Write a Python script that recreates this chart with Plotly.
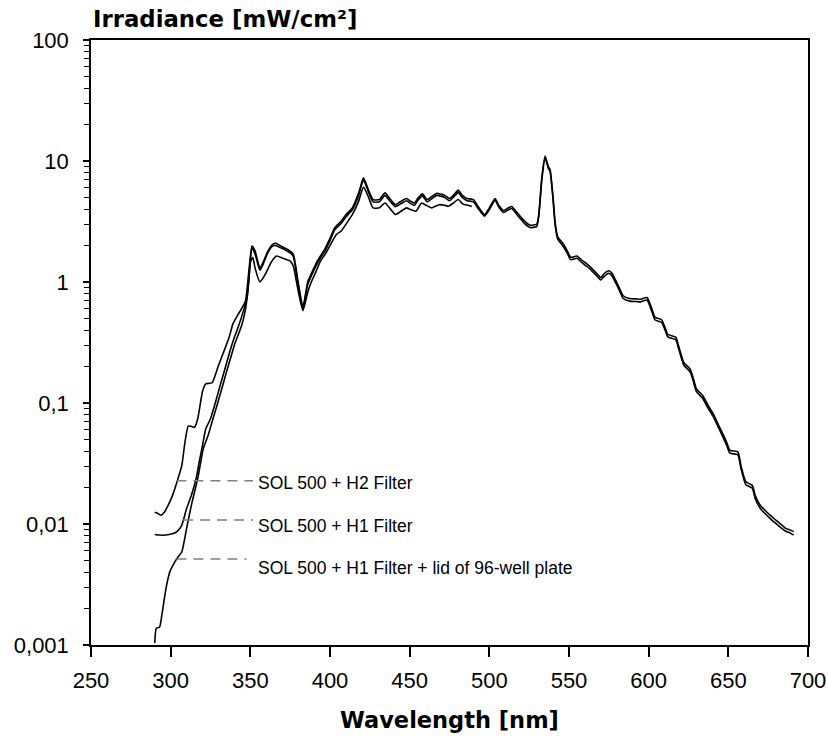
import plotly.graph_objects as go
import math

# ---- data ----
wl_h2 = [290, 292, 294, 296, 298, 301, 304, 307, 309, 311, 313, 315, 317, 320, 322, 326, 330, 334, 337, 339,
         342, 345, 347, 349, 351, 353, 356, 358, 361, 364, 366, 369, 372, 375, 377, 380, 383, 386, 388, 391,
         394, 397, 400, 403, 407, 410, 414, 418, 421, 424, 427, 431, 434.5, 438, 441, 444, 448, 450, 453, 455,
         458, 461, 464, 467, 470, 472, 475, 478, 480.5, 483, 486, 490, 493, 497, 500, 503.6, 506, 509, 512, 514,
         517, 519.3, 522, 525.5, 529.7, 531, 533, 535, 537, 538.1, 540, 541.3, 543, 546, 549, 551, 555, 558, 560,
         563, 565, 568, 570, 572, 575, 577, 579, 582, 584, 588, 592, 595, 599, 602, 604, 608, 610, 612, 617,
         619, 622, 626, 628, 630, 634, 637, 641, 644, 647, 649, 651, 656, 658, 661, 665, 667, 670, 673, 676,
         679, 681, 684, 686, 689, 691]
irr_h2 = [0.0125, 0.0122, 0.0118, 0.0125, 0.0139, 0.017, 0.0223, 0.0305, 0.0477, 0.0645, 0.064, 0.063, 0.074,
          0.125, 0.144, 0.147, 0.204, 0.28, 0.36, 0.449, 0.53, 0.616, 0.70, 1.2, 1.98, 1.8, 1.3, 1.45, 1.8, 2.05,
          2.09, 1.99, 1.9, 1.8, 1.7, 1.0, 0.62, 1.0, 1.15, 1.4, 1.64, 1.9, 2.3, 2.81, 3.18, 3.6, 4.1, 5.45, 7.25,
          5.82, 4.8, 4.8, 5.45, 4.8, 4.36, 4.6, 4.9, 4.7, 4.5, 4.9, 5.35, 4.8, 5.1, 5.4, 5.3, 5.2, 4.9, 5.3, 5.75,
          5.2, 4.9, 4.8, 4.2, 3.6, 4.1, 4.9, 4.3, 3.9, 4.1, 4.2, 3.8, 3.5, 3.2, 2.95, 3.0, 3.6, 7.4, 10.97, 9.0,
          8.5, 5.0, 3.1, 2.35, 2.1, 1.8, 1.6, 1.64, 1.52, 1.45, 1.35, 1.27, 1.15, 1.09, 1.17, 1.24, 1.18, 1.05,
          0.87, 0.77, 0.73, 0.725, 0.72, 0.745, 0.6, 0.51, 0.49, 0.43, 0.37, 0.35, 0.29, 0.217, 0.191, 0.16, 0.131,
          0.115, 0.097, 0.079, 0.065, 0.054, 0.047, 0.0406, 0.0394, 0.03, 0.0223, 0.0209, 0.017, 0.0143, 0.013,
          0.0119, 0.011, 0.01045, 0.0097, 0.0092, 0.0089, 0.00865]

wl_h1 = [290, 293, 297, 301, 304, 307, 310, 313, 316, 318, 320, 322, 325, 328, 331, 334, 337, 340, 342, 346,
         348, 350, 351, 353, 356, 358, 361, 364, 366, 369, 372, 375, 377, 380, 383, 386, 388, 391, 394, 397,
         400, 403, 407, 410, 414, 418, 421, 424, 427, 431, 434.5, 438, 441, 444, 448, 450, 453, 455, 458, 461,
         464, 467, 470, 472, 475, 478, 480.5, 483, 486, 490, 493, 497, 500, 503.6, 506, 509, 512, 514, 517,
         519.3, 522, 525.5, 529.7, 531, 533, 535, 537, 538.1, 540, 541.3, 543, 546, 549, 551, 555, 558, 560,
         563, 565, 568, 570, 572, 575, 577, 579, 582, 584, 588, 592, 595, 599, 602, 604, 608, 610, 612, 617,
         619, 622, 626, 628, 630, 634, 637, 641, 644, 647, 649, 651, 656, 658, 661, 665, 667, 670, 673, 676,
         679, 681, 684, 686, 689, 691]
irr_h1 = [0.0082, 0.0081, 0.0081, 0.0083, 0.00865, 0.0098, 0.0134, 0.0173, 0.0238, 0.033, 0.0447, 0.061, 0.074,
          0.1, 0.139, 0.19, 0.263, 0.35, 0.41, 0.597, 0.75, 1.5, 1.9, 1.7, 1.25, 1.4, 1.75, 1.98, 2.0, 1.92,
          1.84, 1.74, 1.62, 0.95, 0.6, 0.95, 1.1, 1.34, 1.58, 1.82, 2.2, 2.7, 3.05, 3.45, 3.95, 5.2, 7.0, 5.6,
          4.6, 4.6, 5.2, 4.6, 4.2, 4.4, 4.7, 4.5, 4.3, 4.7, 5.15, 4.6, 4.9, 5.2, 5.1, 5.0, 4.7, 5.1, 5.5, 5.0,
          4.7, 4.6, 4.05, 3.5, 3.95, 4.75, 4.15, 3.75, 3.95, 4.05, 3.65, 3.35, 3.05, 2.82, 2.87, 3.45, 7.1, 10.6,
          8.7, 8.2, 4.8, 2.95, 2.25, 2.0, 1.72, 1.53, 1.57, 1.45, 1.38, 1.29, 1.21, 1.1, 1.04, 1.11, 1.18, 1.12,
          1.0, 0.83, 0.73, 0.695, 0.69, 0.685, 0.71, 0.57, 0.485, 0.465, 0.41, 0.352, 0.333, 0.275, 0.206, 0.181,
          0.152, 0.124, 0.109, 0.092, 0.075, 0.062, 0.051, 0.0445, 0.0385, 0.0373, 0.0284, 0.0211, 0.0198, 0.016,
          0.0135, 0.0122, 0.0112, 0.0103, 0.0098, 0.0091, 0.0087, 0.0084, 0.0081]

wl_lid = [290, 291, 293, 294.5, 296, 297.5, 299.5, 302, 304, 307, 310, 313, 317, 320.5, 323.5, 326, 329, 332,
          335, 338, 340.5, 344.5, 347, 349, 350, 351.5, 353, 356, 358, 360, 363, 366.5, 370, 375, 377, 380, 383,
          386, 388, 391, 394, 397, 400, 404, 407, 410, 414, 418, 421, 424, 427, 431, 434.5, 438, 441, 444, 448,
          450, 454, 457.5, 460.5, 463.8, 466.5, 469, 472, 474.3, 477.5, 480.5, 483.5, 486.8, 489]
irr_lid = [0.00104, 0.00138, 0.0014, 0.00178, 0.0024, 0.00314, 0.00404, 0.0047, 0.0052, 0.0059, 0.0092, 0.0143,
           0.0238, 0.042, 0.054, 0.07, 0.095, 0.13, 0.18, 0.245, 0.316, 0.434, 0.6, 1.0, 1.45, 1.6, 1.3, 1.0,
           1.08, 1.2, 1.45, 1.64, 1.58, 1.49, 1.35, 0.85, 0.58, 0.82, 0.98, 1.2, 1.49, 1.7, 2.0, 2.47, 2.63,
           3.0, 3.6, 4.66, 6.1, 5.1, 4.1, 4.1, 4.5, 4.0, 3.61, 3.8, 4.1, 4.0, 3.85, 4.5, 4.3, 4.1, 4.25, 4.36,
           4.3, 4.23, 4.5, 4.8, 4.4, 4.3, 4.2]

labels = ["SOL 500 + H2 Filter", "SOL 500 + H1 Filter", "SOL 500 + H1 Filter + lid of 96-well plate"]
label_wl = [353.8, 353.8, 353.8]
label_irr = [0.0218, 0.0096, 0.00432]
lead_wl_start = [303.6, 307.8, 303.6]
lead_wl_end = [351.7, 351.7, 347.6]
lead_irr = [0.0228, 0.01079, 0.00514]

y_tickvals = [0.001, 0.01, 0.1, 1, 10, 100]
y_ticktext = ["0,001", "0,01", "0,1", "1", "10", "100"]
x_tickvals = [250, 300, 350, 400, 450, 500, 550, 600, 650, 700]

x_title = "Wavelength [nm]"
y_title = "Irradiance [mW/cm²]"

# ---- figure ----
fig = go.Figure()
for wl, irr, name in [(wl_h2, irr_h2, labels[0]), (wl_h1, irr_h1, labels[1]), (wl_lid, irr_lid, labels[2])]:
    fig.add_trace(go.Scatter(x=wl, y=irr, mode="lines", name=name,
                             line=dict(color="black", width=1.6, shape="spline", smoothing=0.5),
                             hoverinfo="x+y"))

for i in range(3):
    fig.add_trace(go.Scatter(x=[lead_wl_start[i], lead_wl_end[i]], y=[lead_irr[i], lead_irr[i]],
                             mode="lines", line=dict(color="#7f7f7f", width=1.4, dash="10px,7px"),
                             hoverinfo="skip", showlegend=False))
    fig.add_annotation(x=label_wl[i], y=math.log10(label_irr[i]), xref="x", yref="y",
                       text=labels[i], showarrow=False, xanchor="left", yanchor="middle",
                       font=dict(family="Liberation Sans, Arial, sans-serif", size=17.5, color="black"))

minor_vals = [m * 10 ** e for e in range(-3, 2) for m in range(2, 10)]

fig.add_annotation(x=0, y=1.035, xref="paper", yref="paper", text=y_title, showarrow=False,
                   xanchor="left", yanchor="middle",
                   font=dict(family="DejaVu Sans", size=22.8, color="black", weight="bold"))
fig.add_annotation(x=0.5, y=-0.124, xref="paper", yref="paper", text=x_title, showarrow=False,
                   xanchor="center", yanchor="middle",
                   font=dict(family="DejaVu Sans", size=22.5, color="black", weight="bold"))

tickfont = dict(family="Liberation Sans, Arial, sans-serif", size=22, color="black")
fig.update_xaxes(range=[250, 700], tickvals=x_tickvals, ticks="outside", ticklen=10, tickwidth=1.5,
                 tickcolor="black", showline=True, linewidth=1.5, linecolor="black", mirror=True,
                 showgrid=False, zeroline=False, tickfont=tickfont, ticklabelstandoff=5, automargin=False)
fig.update_yaxes(type="log", range=[-3, 2], tickvals=y_tickvals, ticktext=y_ticktext, ticks="outside",
                 ticklen=6, tickwidth=1.5, tickcolor="black", showline=True, linewidth=1.5,
                 linecolor="black", mirror=True, showgrid=False, zeroline=False, tickfont=tickfont,
                 ticklabelstandoff=10, automargin=False,
                 minor=dict(tickvals=minor_vals, ticks="outside", ticklen=5, tickwidth=1, tickcolor="black",
                            showgrid=False))

fig.update_layout(width=828, height=737, autosize=False, margin=dict(l=91, r=20, t=40, b=92),
                  plot_bgcolor="white", paper_bgcolor="white", showlegend=False)

fig.write_html("out.html", config={"displayModeBar": False, "responsive": False},
               post_script="document.body.style.margin='0';document.body.style.overflow='hidden';")
